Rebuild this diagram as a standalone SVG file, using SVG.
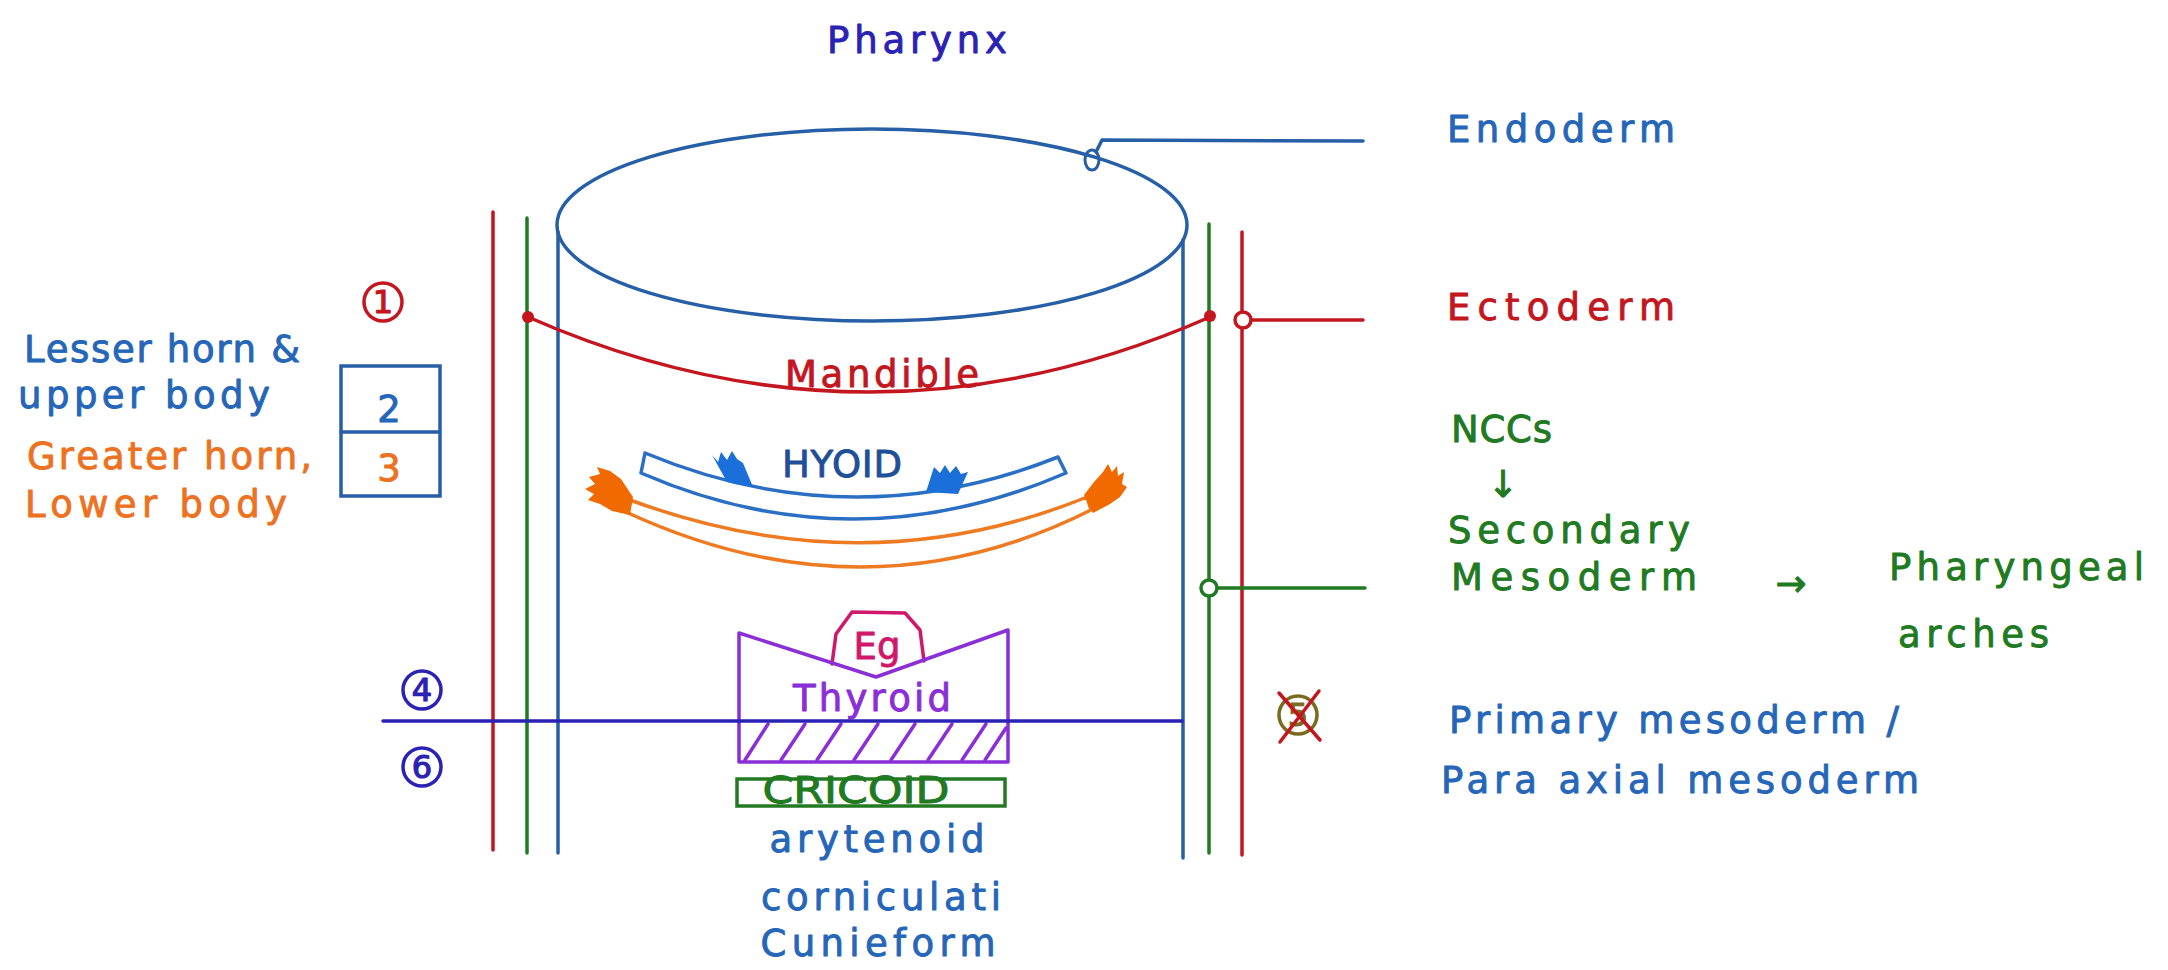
<svg xmlns="http://www.w3.org/2000/svg" width="2168" height="970" viewBox="0 0 2168 970">
  <style>
    text { font-family: "DejaVu Sans", "Liberation Sans", sans-serif; font-size: 37px; stroke-width: 0.9; stroke-linejoin: round; }
    .blue { fill: #2566b8; stroke: #2566b8; }
    .indigo { fill: #2a22b4; stroke: #2a22b4; }
    .red { fill: #c3161f; stroke: #c3161f; }
    .green { fill: #1f7a22; stroke: #1f7a22; }
    .orange { fill: #ec7222; stroke: #ec7222; }
    .purple { fill: #8a2fd8; stroke: #8a2fd8; }
    .magenta { fill: #d0186a; stroke: #d0186a; }
    .ln { fill: none; stroke-width: 3.5; stroke-linecap: round; stroke-linejoin: round; }
    .lb { stroke: #275fa6; }
    .lr { stroke: #c3161f; }
    .lg { stroke: #1f7a22; }
    .li { stroke: #2a22b4; }
    .mid { text-anchor: middle; }
    .num { font-size: 32px; stroke-width: 1.2; }
  </style>

  <rect width="2168" height="970" fill="#ffffff"/>

  <!-- title -->
  <g id="title">
    <text class="indigo mid" x="917" y="53" font-size="38" textLength="180" lengthAdjust="spacing">Pharynx</text>
  </g>

  <!-- pharyngeal tube: endoderm cylinder -->
  <g id="pharynx-tube">
    <ellipse class="ln lb" cx="872" cy="225" rx="315" ry="96" stroke-width="3.8"/>
    <line class="ln lb" x1="558" y1="232" x2="558" y2="853"/>
    <line class="ln lb" x1="1183" y1="240" x2="1183" y2="858"/>
  </g>

  <!-- mesoderm (green) and ectoderm (red) layers -->
  <g id="layers">
    <line class="ln lg" x1="527" y1="218" x2="527" y2="853"/>
    <line class="ln lr" x1="493" y1="212" x2="493" y2="850"/>
    <line class="ln lg" x1="1209" y1="224" x2="1209" y2="853"/>
    <line class="ln lr" x1="1242" y1="232" x2="1242" y2="855"/>
  </g>

  <!-- arch numbers -->
  <g id="arch-1">
    <circle cx="383" cy="302" r="19" fill="none" stroke="#c3161f" stroke-width="3.5"/>
    <text class="red mid num" x="383" y="313">1</text>
  </g>
  <g id="arch-4">
    <circle cx="422" cy="690" r="19" fill="none" stroke="#2a22b4" stroke-width="3.5"/>
    <text class="indigo mid num" x="422" y="701">4</text>
  </g>
  <g id="arch-6">
    <circle cx="422" cy="767" r="19" fill="none" stroke="#2a22b4" stroke-width="3.5"/>
    <text class="indigo mid num" x="422" y="778">6</text>
  </g>
  <g id="arch-5">
    <circle cx="1298" cy="715" r="19" fill="none" stroke="#7a6a1e" stroke-width="3.5"/>
    <text class="mid num" x="1298" y="726" fill="#7a6a1e" stroke="#7a6a1e">5</text>
    <line class="ln lr" x1="1279" y1="693" x2="1320" y2="740"/>
    <line class="ln lr" x1="1319" y1="691" x2="1280" y2="742"/>
  </g>

  <!-- arch 2 / 3 box with hyoid labels -->
  <g id="arch-2-3">
    <rect x="341" y="366" width="99" height="130" fill="none" stroke="#275fa6" stroke-width="3.5"/>
    <line class="ln lb" x1="341" y1="432" x2="440" y2="432"/>
    <text class="blue mid" x="389" y="422" font-size="34">2</text>
    <text class="orange mid" x="389" y="481" font-size="34">3</text>
  </g>
  <g id="hyoid-labels">
    <text class="blue" x="24" y="362" textLength="276" lengthAdjust="spacing">Lesser horn &amp;</text>
    <text class="blue" x="18" y="408" textLength="252" lengthAdjust="spacing">upper body</text>
    <text class="orange" x="27" y="469" textLength="285" lengthAdjust="spacing">Greater horn,</text>
    <text class="orange" x="25" y="517" textLength="262" lengthAdjust="spacing">Lower body</text>
  </g>

  <!-- mandible (arch 1) -->
  <g id="mandible">
    <path class="ln lr" d="M528,317 Q869,467 1210,317"/>
    <circle cx="528" cy="317" r="6" fill="#c3161f"/>
    <circle cx="1210" cy="316" r="6" fill="#c3161f"/>
    <text class="red mid" x="882" y="387" font-size="35" textLength="194" lengthAdjust="spacing">Mandible</text>
  </g>

  <!-- hyoid: lesser horn (blue) and greater horn (orange) -->
  <g id="hyoid">
    <path d="M645,453 Q852,539 1058,457 L1066,473 Q853,565 641,473 Z" fill="#ffffff" stroke="#2a6fc4" stroke-width="3.5" stroke-linejoin="round"/>
    <polygon points="712,455 718,462 721,452 727,460 732,451 737,459 743,463 753,487 727,482" fill="#1a6fd8"/>
    <polygon points="934,467 940,473 945,465 950,473 956,466 961,474 968,472 958,494 926,492" fill="#1a6fd8"/>
    <path d="M630,500 Q866,587 1087,497 L1091,510 Q866,623 626,512 Z" fill="#ffffff" stroke="#ee7a22" stroke-width="3.5" stroke-linejoin="round"/>
    <polygon points="633,497 630,515 612,511 600,504 588,500 594,494 585,489 595,484 589,477 600,474 597,467 610,471 621,479" fill="#f06a00"/>
    <polygon points="1084,495 1094,482 1103,472 1108,464 1112,472 1117,466 1118,476 1124,472 1122,484 1127,487 1120,497 1110,504 1093,513" fill="#f06a00"/>
    <text class="mid" x="842" y="477" font-size="32" fill="#1f4f96" stroke="#1f4f96" textLength="120" lengthAdjust="spacing">HYOID</text>
  </g>

  <!-- thyroid cartilage with epiglottis -->
  <g id="thyroid">
    <path class="ln" d="M832,664 L836,634 L852,612 L905,613 L920,630 L924,661" stroke="#d0186a"/>
    <text class="magenta mid" x="877" y="659" font-size="30">Eg</text>
    <path class="ln" d="M739,633 L876,677 L1008,630 L1008,762 L739,762 Z" stroke="#8a2fd8"/>
    <g class="ln" stroke="#8a2fd8" stroke-width="3">
      <line x1="745" y1="760" x2="768" y2="724"/>
      <line x1="781" y1="760" x2="805" y2="724"/>
      <line x1="817" y1="760" x2="841" y2="724"/>
      <line x1="854" y1="760" x2="878" y2="724"/>
      <line x1="891" y1="760" x2="915" y2="724"/>
      <line x1="928" y1="760" x2="952" y2="724"/>
      <line x1="962" y1="760" x2="986" y2="724"/>
      <line x1="985" y1="760" x2="1006" y2="728"/>
    </g>
    <text class="purple mid" x="872" y="711" font-size="36" textLength="158" lengthAdjust="spacing">Thyroid</text>
  </g>

  <!-- 4th / 6th arch boundary -->
  <g id="arch-boundary">
    <line class="ln li" x1="383" y1="721" x2="1182" y2="721"/>
  </g>

  <!-- laryngeal cartilages of arch 6 -->
  <g id="cricoid">
    <rect x="737" y="779" width="268" height="27" fill="none" stroke="#237a23" stroke-width="3.5"/>
    <text class="green mid" x="856" y="803" font-size="27" textLength="187" lengthAdjust="spacingAndGlyphs">CRICOID</text>
  </g>
  <g id="other-cartilages">
    <text class="blue mid" x="877" y="852" font-size="38" textLength="215" lengthAdjust="spacing">arytenoid</text>
    <text class="blue mid" x="881" y="910" font-size="38" textLength="240" lengthAdjust="spacing">corniculati</text>
    <text class="blue mid" x="878" y="956" font-size="38" textLength="235" lengthAdjust="spacing">Cunieform</text>
  </g>

  <!-- leader lines to germ layer labels -->
  <g id="connectors">
    <ellipse cx="1092" cy="160" rx="7" ry="10" fill="none" stroke="#275fa6" stroke-width="3"/>
    <path class="ln lb" d="M1096,152 L1102,140 L1363,141"/>
    <circle cx="1243" cy="320" r="8" fill="#ffffff" stroke="#c3161f" stroke-width="3.5"/>
    <line class="ln lr" x1="1251" y1="320" x2="1363" y2="320"/>
    <circle cx="1209" cy="588" r="8" fill="#ffffff" stroke="#1f7a22" stroke-width="3.5"/>
    <line class="ln lg" x1="1217" y1="588" x2="1365" y2="588"/>
  </g>

  <g id="endoderm-label">
    <text class="blue" x="1447" y="142" font-size="38" textLength="228" lengthAdjust="spacing">Endoderm</text>
  </g>
  <g id="ectoderm-label">
    <text class="red" x="1447" y="320" font-size="38" textLength="228" lengthAdjust="spacing">Ectoderm</text>
  </g>
  <g id="ncc-label">
    <text class="green" x="1451" y="442" font-size="36" textLength="101" lengthAdjust="spacing">NCCs</text>
    <text class="green mid" x="1503" y="497" font-size="46" stroke-width="0.5">↓</text>
    <text class="green" x="1448" y="543" font-size="38" textLength="242" lengthAdjust="spacing">Secondary</text>
    <text class="green" x="1451" y="590" font-size="38" textLength="246" lengthAdjust="spacing">Mesoderm</text>
    <text class="green mid" x="1791" y="596" font-size="46" stroke-width="0.5">→</text>
  </g>
  <g id="arches-label">
    <text class="green" x="1889" y="580" font-size="38" textLength="255" lengthAdjust="spacing">Pharyngeal</text>
    <text class="green" x="1898" y="647" font-size="38" textLength="151" lengthAdjust="spacing">arches</text>
  </g>
  <g id="primary-mesoderm-label">
    <text class="blue" x="1449" y="733" font-size="37" textLength="450" lengthAdjust="spacing">Primary mesoderm /</text>
    <text class="blue" x="1441" y="793" font-size="37" textLength="478" lengthAdjust="spacing">Para axial mesoderm</text>
  </g>
</svg>
